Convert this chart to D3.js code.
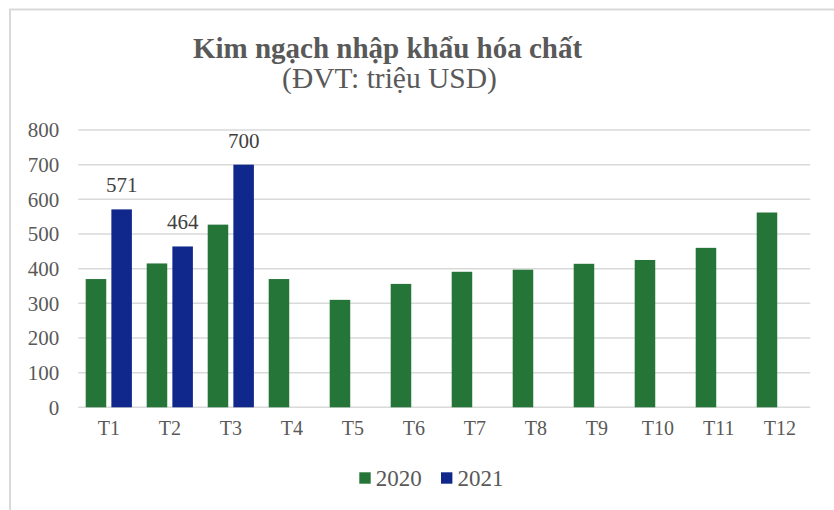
<!DOCTYPE html>
<html>
<head>
<meta charset="utf-8">
<script src="https://cdn.jsdelivr.net/npm/d3@7"></script>
<style>
html,body{margin:0;padding:0;background:#fff;}
svg{display:block;}
text{font-family:"Liberation Serif","Times New Roman",serif;}
</style>
</head>
<body>
<svg id="chart" width="834" height="510"></svg>
<script>
const categories = ["T1","T2","T3","T4","T5","T6","T7","T8","T9","T10","T11","T12"];
const seriesNames = ["2020","2021"];
const values2020 = [370,415,527,370,310,356,391,397,414,425,460,562];
const values2021 = [571,464,700,null,null,null,null,null,null,null,null,null];
const yTicks = [0,100,200,300,400,500,600,700,800];
const titleText = "Kim ngạch nhập khẩu hóa chất";
const subtitleText = "(ĐVT: triệu USD)";

const colors = {"2020":"#267538","2021":"#10288c"};
const svg = d3.select("#chart");

// chart border
svg.append("rect").attr("x",10).attr("y",9.5).attr("width",900).attr("height",600)
  .attr("fill","none").attr("stroke","#d9d9d9").attr("stroke-width",2);

const x = d3.scaleBand().domain(categories).range([78.3,810.3]).paddingInner(0).paddingOuter(0);
const xs = d3.scaleBand().domain(seriesNames).range([7.4, x.bandwidth()-7.4]).paddingInner(0.2);
const y = d3.scaleLinear().domain([0,800]).range([407.3,130]);

// gridlines
svg.append("g").selectAll("line").data(yTicks).join("line")
  .attr("x1",78.3).attr("x2",810.3)
  .attr("y1",d=>y(d)).attr("y2",d=>y(d))
  .attr("stroke","#d9d9d9").attr("stroke-width",1.5);

// y axis labels
const yAxis = d3.axisLeft(y).tickValues(yTicks).tickSize(0).tickPadding(19);
const gy = svg.append("g").attr("transform","translate(78.3,0)").call(yAxis);
gy.select(".domain").remove();
gy.selectAll("text").attr("font-size",21).attr("fill","#595959");

// x axis labels
const xAxis = d3.axisBottom(x).tickSize(0).tickPadding(14);
const gx = svg.append("g").attr("transform","translate(0,407.3)").call(xAxis);
gx.select(".domain").remove();
gx.selectAll("text").attr("font-size",20).attr("fill","#595959");

const data = categories.map((c,i)=>({cat:c, vals:[{s:"2020",v:values2020[i]},{s:"2021",v:values2021[i]}]}));

const groups = svg.append("g").selectAll("g").data(data).join("g")
  .attr("transform",d=>`translate(${x(d.cat)},0)`);
groups.selectAll("rect").data(d=>d.vals.filter(e=>e.v!=null)).join("rect")
  .attr("x",e=>xs(e.s)).attr("width",xs.bandwidth())
  .attr("y",e=>y(e.v)).attr("height",e=>y(0)-y(e.v))
  .attr("fill",e=>colors[e.s]);

// data labels for 2021
groups.selectAll("text.lbl").data(d=>d.vals.filter(e=>e.v!=null && e.s==="2021")).join("text")
  .attr("class","lbl")
  .attr("x",e=>xs(e.s)+xs.bandwidth()/2)
  .attr("y",e=>y(e.v)-17)
  .attr("text-anchor","middle")
  .attr("font-size",21).attr("fill","#404040")
  .text(e=>e.v);

// title
svg.append("text").attr("x",387.5).attr("y",58.3).attr("text-anchor","middle")
  .attr("font-size",29).attr("font-weight","bold").attr("fill","#595959").text(titleText);
svg.append("text").attr("x",389.5).attr("y",88.3).attr("text-anchor","middle")
  .attr("font-size",29.5).attr("fill","#595959").text(subtitleText);

// legend
const legendX = [359.3, 441];
const lg = svg.append("g").selectAll("g").data(seriesNames).join("g")
  .attr("transform",(d,i)=>`translate(${legendX[i]},472.3)`);
lg.append("rect").attr("width",11.4).attr("height",11.4).attr("fill",d=>colors[d]);
lg.append("text").attr("x",16.5).attr("y",14).attr("font-size",23).attr("fill","#595959").text(d=>d);
</script>
</body>
</html>
